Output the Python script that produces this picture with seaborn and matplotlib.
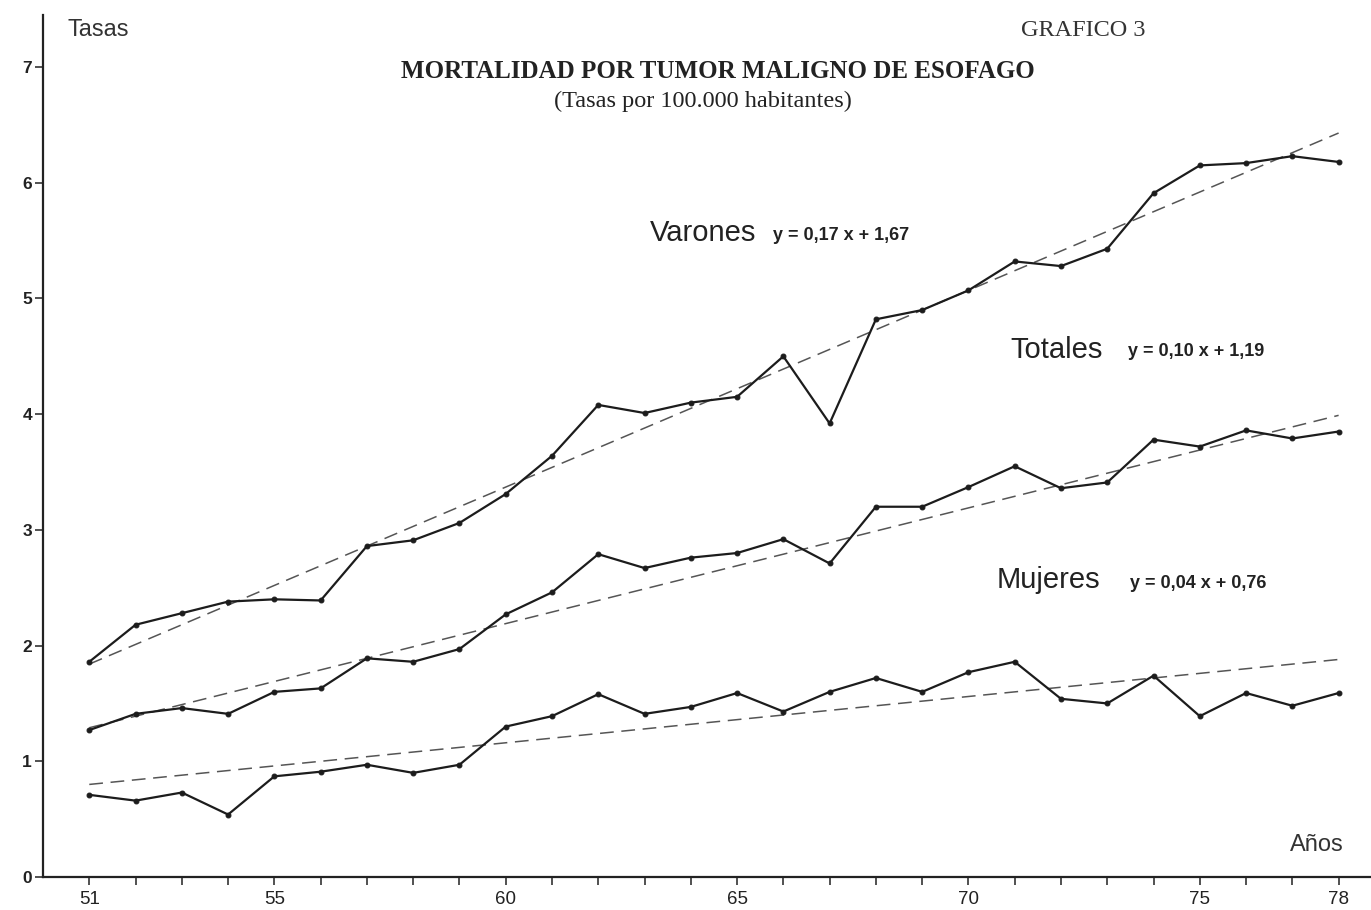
import matplotlib
matplotlib.use("Agg")
import matplotlib.pyplot as plt
import numpy as np
import pandas as pd
import seaborn as sns

# years 1951-1978
years = list(range(51, 79))

varones = [1.86, 2.18, 2.28, 2.38, 2.40, 2.39, 2.86, 2.91, 3.06, 3.31,
           3.64, 4.08, 4.01, 4.10, 4.15, 4.50, 3.92, 4.82, 4.90, 5.07,
           5.32, 5.28, 5.43, 5.91, 6.15, 6.17, 6.23, 6.18]
totales = [1.27, 1.41, 1.46, 1.41, 1.60, 1.63, 1.89, 1.86, 1.97, 2.27,
           2.46, 2.79, 2.67, 2.76, 2.80, 2.92, 2.71, 3.20, 3.20, 3.37,
           3.55, 3.36, 3.41, 3.78, 3.72, 3.86, 3.79, 3.85]
mujeres = [0.71, 0.66, 0.73, 0.54, 0.87, 0.91, 0.97, 0.90, 0.97, 1.30,
           1.39, 1.58, 1.41, 1.47, 1.59, 1.43, 1.60, 1.72, 1.60, 1.77,
           1.86, 1.54, 1.50, 1.74, 1.39, 1.59, 1.48, 1.59]

# regression lines printed on the chart (x = year - 50)
series_names = ['Varones', 'Totales', 'Mujeres']
slopes = [0.17, 0.10, 0.04]
intercepts = [1.67, 1.19, 0.76]
equations = ['y = 0,17 x + 1,67', 'y = 0,10 x + 1,19', 'y = 0,04 x + 0,76']

x_labeled = {51: '51', 55: '55', 60: '60', 65: '65', 70: '70', 75: '75', 78: '78'}
y_ticks = [0, 1, 2, 3, 4, 5, 6, 7]

df = pd.DataFrame({
    'year': years * 3,
    'tasa': varones + totales + mujeres,
    'serie': ['Varones'] * 28 + ['Totales'] * 28 + ['Mujeres'] * 28,
})

sns.set_style("ticks")
plt.rcParams['font.family'] = ['Liberation Sans', 'DejaVu Sans']

W, H = 1371, 910
fig = plt.figure(figsize=(W / 100, H / 100), dpi=100)
ax = fig.add_axes([43 / W, 33 / H, (W - 43) / W, (877 - 15) / H])

# trend lines
for name, a, b in zip(series_names, slopes, intercepts):
    xs = np.array([years[0], years[-1]])
    ax.plot(xs, a * (xs - 50) + b, color='#555555', linewidth=1.1,
            dashes=(9, 5), zorder=2)

sns.lineplot(data=df, x='year', y='tasa', units='serie', estimator=None,
             color='#1c1c1c', linewidth=1.6, marker='o', markersize=3.5,
             markeredgecolor='#1c1c1c', ax=ax, zorder=3)

ax.set_xlim(50.0, 78.7)
ax.set_ylim(0, 7.45)
ax.set_xticks(years)
ax.set_xticklabels([x_labeled.get(y, '') for y in years], fontsize=13.5)
ax.set_yticks(y_ticks)
ax.set_yticklabels([str(t) for t in y_ticks], fontsize=12.5, fontweight='bold')
ax.tick_params(axis='x', direction='out', length=6, width=1.1, pad=4, colors='#222222')
ax.tick_params(axis='y', direction='out', length=6, width=1.1, pad=2, colors='#222222')
ax.set_xlabel('')
ax.set_ylabel('')
sns.despine(ax=ax)
for s in ['left', 'bottom']:
    ax.spines[s].set_linewidth(1.6)
    ax.spines[s].set_color('#222222')


def fx(px):
    return px / W


def fy(py):
    return 1 - py / H


# header texts
fig.text(fx(68), fy(30), 'Tasas', fontsize=17, color='#333333', va='center', ha='left')
fig.text(fx(1083), fy(30), 'GRAFICO 3', fontsize=17.5, family='Liberation Serif',
         color='#333333', va='center', ha='center')
fig.text(fx(718), fy(72), 'MORTALIDAD POR TUMOR MALIGNO DE ESOFAGO', fontsize=18,
         family='Liberation Serif', fontweight='bold', color='#222222',
         va='center', ha='center')
fig.text(fx(703), fy(101), '(Tasas por 100.000 habitantes)', fontsize=17.5,
         family='Liberation Serif', color='#222222', va='center', ha='center')

# series labels
label_pos = [(650, 233, 773, 236), (1010, 350, 1128, 352), (997, 580, 1130, 583)]
for name, eq, (lx, ly, ex, ey) in zip(series_names, equations, label_pos):
    fig.text(fx(lx), fy(ly), name, fontsize=21, color='#222222', va='center', ha='left')
    fig.text(fx(ex), fy(ey), eq, fontsize=13, fontweight='bold', color='#222222',
             va='center', ha='left')

fig.text(fx(1290), fy(845), 'Años', fontsize=17, color='#333333', va='center', ha='left')

fig.savefig('out.png', dpi=100, facecolor='white')
